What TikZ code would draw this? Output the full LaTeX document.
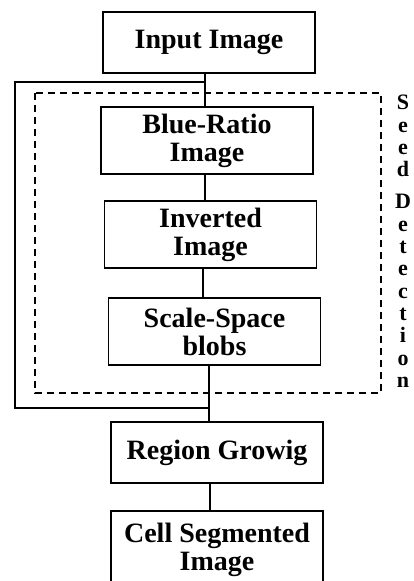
\documentclass[tikz,border=0pt]{standalone}
\usepackage{fontspec}
\setmainfont{Liberation Serif}
\usepackage{tikz}
\usetikzlibrary{positioning}

\tikzset{
  blk/.style={draw, line width=1.3pt, minimum width=212pt, inner sep=0pt,
    align=center, font=\bfseries\fontsize{28}{28}\selectfont},
  seedbox/.style={dashed, dash pattern=on 7pt off 5pt, line width=1.1pt}
}

\begin{document}
\begin{tikzpicture}[x=1pt, y=-1pt]
    \useasboundingbox (0,0) rectangle (414,581);
    \clip (0,0) rectangle (414,581);

    % Blocks
    \foreach \n/\x/\y/\h/\t in {inp/209/42.5/61/{Input Image}, blue/207/140.5/67/{Blue-Ratio\\Image},
      inv/210.5/234.5/67/{Inverted\\Image}, scl/214.5/331.5/67/{Scale-Space\\ blobs},
      reg/217/452.5/61/{Region Growig}, cell/217/550/78/{Cell Segmented\\Image}} {
      \node[blk, minimum height=\h pt] (\n) at (\x,\y) {\t};
    }

    % Links between blocks
    \foreach \a/\b/\x in {inp/blue/205, blue/inv/205, inv/scl/203, scl/reg/209, reg/cell/210} {
      \draw[line width=1.3pt] (\a.south -| \x,0) -- (\b.north -| \x,0);
    }

    % Bypass line
    \coordinate (split) at (inp.south |- 0,82);
    \coordinate (join) at (reg.north -| 209,0);
    \draw[line width=1.3pt] (split -| 205,0) -- (15,82) -- (15,408) -- (join |- 0,408);

    % Seed detection frame
    \draw[seedbox] (35,93) rectangle (381,393);
    \node[anchor=north, inner sep=0pt, align=center, font=\bfseries\fontsize{22}{22.3}\selectfont]
      (seed) at (403,95) {S\\e\\e\\d\\[10pt]D\\e\\t\\e\\c\\t\\i\\o\\n};

  \end{tikzpicture}
\end{document}
